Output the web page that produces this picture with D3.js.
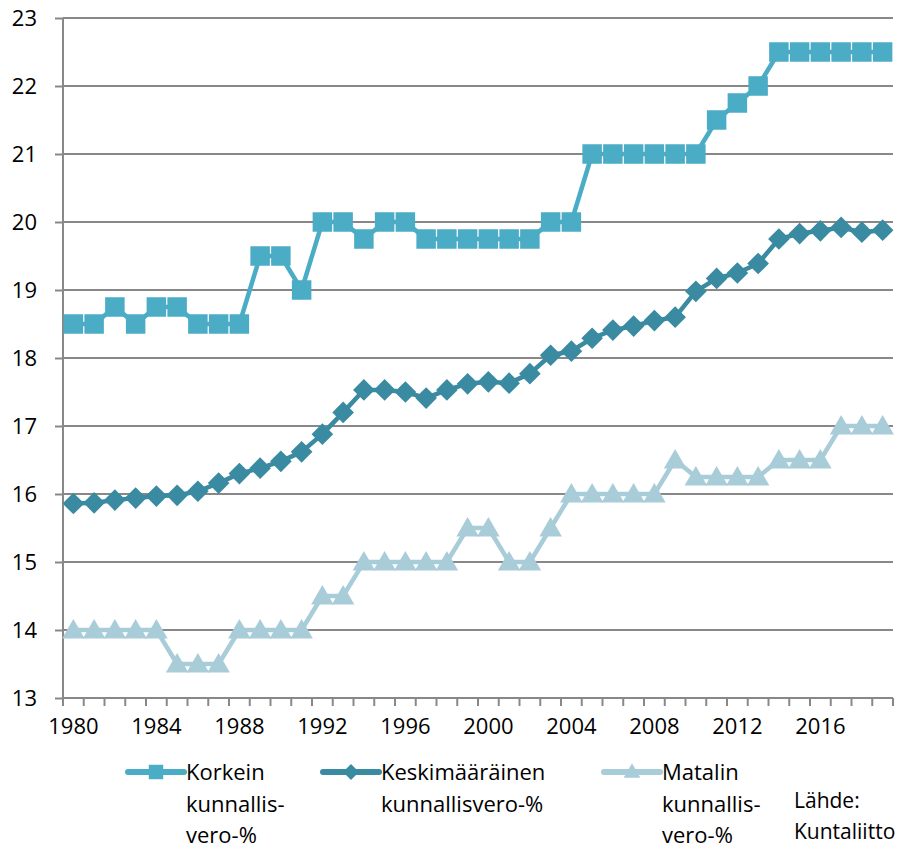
<!DOCTYPE html>
<html>
<head>
  <meta charset="utf-8">
  <script src="https://d3js.org/d3.v7.min.js"></script>
  <style>
    body { margin: 0; background: #ffffff; }
    text { font-family: "Open Sans", sans-serif; fill: #000000; }
    .tick text { font-size: 22px; }
    .legend text { font-size: 22px; }
    path.domain { display: none; }
  </style>
</head>
<body>
<script>

  // vuodet 1980-2019
  const years = d3.range(1980, 2020);
  const yearLabels = [1980, 1984, 1988, 1992, 1996, 2000, 2004, 2008, 2012, 2016];
  const yTicks = [13, 14, 15, 16, 17, 18, 19, 20, 21, 22, 23];

  const korkein = [18.5, 18.5, 18.75, 18.5, 18.75, 18.75, 18.5, 18.5, 18.5, 19.5,
                   19.5, 19.0, 20.0, 20.0, 19.75, 20.0, 20.0, 19.75, 19.75, 19.75,
                   19.75, 19.75, 19.75, 20.0, 20.0, 21.0, 21.0, 21.0, 21.0, 21.0,
                   21.0, 21.5, 21.75, 22.0, 22.5, 22.5, 22.5, 22.5, 22.5, 22.5];

  const keskimaarainen = [15.86, 15.87, 15.91, 15.94, 15.97, 15.98, 16.04, 16.16, 16.30, 16.38,
                          16.48, 16.62, 16.88, 17.20, 17.53, 17.53, 17.50, 17.41, 17.53, 17.62,
                          17.65, 17.63, 17.77, 18.04, 18.10, 18.29, 18.41, 18.47, 18.55, 18.60,
                          18.98, 19.17, 19.25, 19.39, 19.75, 19.83, 19.87, 19.92, 19.85, 19.88];

  const matalin = [14.0, 14.0, 14.0, 14.0, 14.0, 13.5, 13.5, 13.5, 14.0, 14.0,
                   14.0, 14.0, 14.5, 14.5, 15.0, 15.0, 15.0, 15.0, 15.0, 15.5,
                   15.5, 15.0, 15.0, 15.5, 16.0, 16.0, 16.0, 16.0, 16.0, 16.5,
                   16.25, 16.25, 16.25, 16.25, 16.5, 16.5, 16.5, 17.0, 17.0, 17.0];

  const seriesNames = [['Korkein', 'kunnallis-', 'vero-%'],
                       ['Keskimääräinen', 'kunnallisvero-%'],
                       ['Matalin', 'kunnallis-', 'vero-%']];
  const source = ['Lähde:', 'Kuntaliitto'];

  const width = 901;
  const height = 848;
  const margin = {top: 18, right: 8, bottom: 150, left: 63};

  const colours = ['#4bacc6', '#3a8ba1', '#a9ccd9'];
  // salmiakki = neliö käännettynä 45 astetta
  const symbols = [d3.symbolSquare, d3.symbolSquare, d3.symbolTriangle];
  const rotations = [0, 45, 0];
  const symbolSizes = [380, 235, 220];

  const series = [korkein, keskimaarainen, matalin].map((vals, i) => ({
    name: seriesNames[i],
    colour: colours[i],
    symbol: symbols[i],
    rotate: rotations[i],
    size: symbolSizes[i],
    dy: symbols[i] === d3.symbolTriangle ? 2 : 0,
    values: years.map((y, j) => ({year: y, value: vals[j]}))
  }));

  const svg = d3.select('body').append('svg')
    .attr('width', width)
    .attr('height', height);

  const x = d3.scaleBand()
    .domain(years)
    .range([margin.left, width - margin.right])
    .paddingInner(0)
    .paddingOuter(0);

  const y = d3.scaleLinear()
    .domain([13, 23])
    .range([height - margin.bottom, margin.top]);

  const cx = d => x(d) + x.bandwidth() / 2;

  // vaakaviivat ja y-akseli
  const yAxis = d3.axisLeft(y)
    .tickValues(yTicks)
    .tickSize(8)
    .tickPadding(18)
    .tickFormat(d3.format('d'));

  svg.append('g')
    .attr('class', 'grid')
    .selectAll('line')
    .data(yTicks)
    .enter().append('line')
    .attr('x1', margin.left)
    .attr('x2', width - margin.right)
    .attr('y1', d => y(d))
    .attr('y2', d => y(d))
    .style('stroke', '#888888')
    .style('stroke-width', 2);

  svg.append('g')
    .attr('class', 'axis yAxis')
    .attr('transform', `translate(${margin.left},0)`)
    .call(yAxis)
    .call(g => g.selectAll('.tick line').style('stroke', '#888888').style('stroke-width', 2));

  svg.append('line')
    .attr('x1', margin.left).attr('x2', margin.left)
    .attr('y1', y(23)).attr('y2', y(13))
    .style('stroke', '#888888')
    .style('stroke-width', 2);

  // x-akseli: merkit luokkien rajoilla, nimet joka neljäs vuosi
  const xAxis = d3.axisBottom(x)
    .tickValues(yearLabels)
    .tickSize(0)
    .tickPadding(20);

  svg.append('g')
    .attr('class', 'axis xAxis')
    .attr('transform', `translate(0,${y(13)})`)
    .call(xAxis);

  const boundaries = years.map(d => x(d)).concat([x.range()[1]]);
  svg.append('g')
    .selectAll('line')
    .data(boundaries)
    .enter().append('line')
    .attr('x1', d => d).attr('x2', d => d)
    .attr('y1', y(13)).attr('y2', y(13) + 8)
    .style('stroke', '#888888')
    .style('stroke-width', 2);

  // viivat ja merkit
  const line = d3.line()
    .x(d => cx(d.year))
    .y(d => y(d.value));

  const groups = svg.selectAll('g.series')
    .data(series)
    .enter().append('g')
    .attr('class', 'series');

  groups.append('path')
    .attr('d', d => line(d.values))
    .style('fill', 'none')
    .style('stroke', d => d.colour)
    .style('stroke-width', 4.5)
    .style('stroke-linejoin', 'round');

  groups.each(function(s) {
    d3.select(this).selectAll('path.marker')
      .data(s.values)
      .enter().append('path')
      .attr('class', 'marker')
      .attr('d', d3.symbol().type(s.symbol).size(s.size))
      .attr('transform', d => `translate(${cx(d.year)},${y(d.value) + s.dy}) rotate(${s.rotate})`)
      .style('fill', s.colour);
  });

  // selite
  const legendX = [128, 323, 604];
  const legend = svg.selectAll('g.legend')
    .data(series)
    .enter().append('g')
    .attr('class', 'legend')
    .attr('transform', (d, i) => `translate(${legendX[i]},772)`);

  legend.append('line')
    .attr('x1', 0).attr('x2', 56)
    .style('stroke', d => d.colour)
    .style('stroke-width', 6)
    .style('stroke-linecap', 'round');

  legend.append('path')
    .attr('d', d => d3.symbol().type(d.symbol).size(d.size * 0.55)())
    .attr('transform', d => `translate(28,${d.dy / 2}) rotate(${d.rotate})`)
    .style('fill', d => d.colour);

  legend.append('text')
    .attr('x', 58)
    .selectAll('tspan')
    .data(d => d.name)
    .enter().append('tspan')
    .attr('x', 58)
    .attr('y', (d, i) => 8 + i * 31.5)
    .text(d => d);

  svg.append('text')
    .attr('class', 'source')
    .style('font-size', '21px')
    .selectAll('tspan')
    .data(source)
    .enter().append('tspan')
    .attr('x', 794)
    .attr('y', (d, i) => 808 + i * 31)
    .text(d => d);

</script>
</body>
</html>
